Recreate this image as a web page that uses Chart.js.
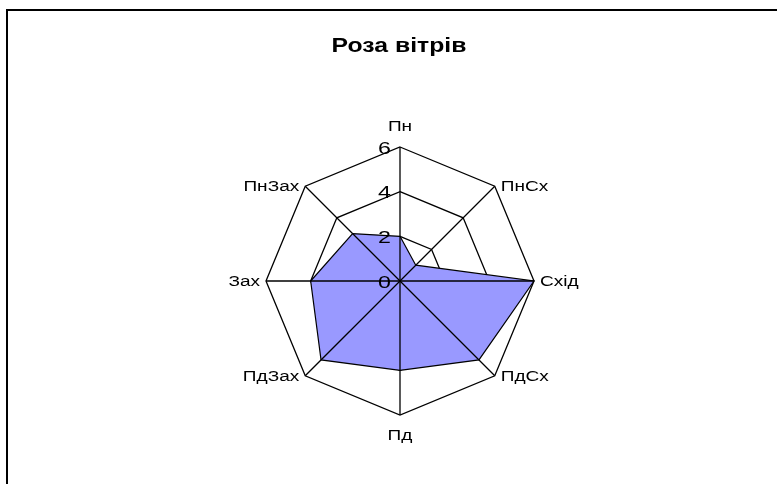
<!DOCTYPE html>
<html>
<head>
<meta charset="utf-8">
<title>Роза вітрів</title>
<script src="https://cdn.jsdelivr.net/npm/chart.js@4.4.1/dist/chart.umd.min.js"></script>
<style>
    html, body { margin: 0; padding: 0; background: #fff; overflow: hidden; }
    #frame {
        position: absolute; left: 6px; top: 9px;
        width: 900px; height: 600px;
        border: 2px solid #000;
    }
    #wind-rose { position: absolute; left: 0; top: 0; }
</style>
</head>
<body>
<div id="frame"></div>
<canvas id="wind-rose" width="777" height="484"></canvas>
<script>
// Chart data
const chartTitle = 'Роза вітрів';
const directions = ['Пн', 'ПнСх', 'Схід', 'ПдСх', 'Пд', 'ПдЗах', 'Зах', 'ПнЗах'];
const windValues = [2, 1, 6, 5, 4, 5, 4, 3];
const tickValues = [0, 2, 4, 6];

// The source picture has its text stretched sideways
const TITLE_STRETCH = 1.27;
const LABEL_STRETCH = 1.36;
const TICK_STRETCH = 1.45;
const FONT_FAMILY = '"Liberation Sans", Arial, sans-serif';

function drawStretched(ctx, text, x, y, font, align, stretch) {
    ctx.save();
    ctx.font = font;
    ctx.textAlign = align;
    ctx.textBaseline = 'alphabetic';
    ctx.fillStyle = '#000';
    ctx.translate(x, y);
    ctx.scale(stretch, 1);
    ctx.fillText(text, 0, 0);
    ctx.restore();
}

// Spokes go over the filled area, labels are drawn by hand
const roseDecor = {
    id: 'roseDecor',
    afterDatasetsDraw(chart) {
        const ctx = chart.ctx;
        const scale = chart.scales.r;
        const cx = scale.xCenter;
        const cy = scale.yCenter;

        // angle lines
        ctx.save();
        ctx.strokeStyle = '#000';
        ctx.lineWidth = 1.3;
        directions.forEach((d, i) => {
            const p = scale.getPointPositionForValue(i, scale.max);
            ctx.beginPath();
            ctx.moveTo(cx, cy);
            ctx.lineTo(p.x, p.y);
            ctx.stroke();
        });
        ctx.restore();

        // tick labels, left of the north spoke
        const tickFont = '16px ' + FONT_FAMILY;
        tickValues.forEach(v => {
            const dist = scale.getDistanceFromCenterForValue(v);
            drawStretched(ctx, String(v), cx - 9, cy - dist + 6.7, tickFont, 'right', TICK_STRETCH);
        });

        // direction labels
        const labelFont = '14px ' + FONT_FAMILY;
        directions.forEach((d, i) => {
            const p = scale.getPointPositionForValue(i, scale.max);
            const dx = p.x - cx;
            if (Math.abs(dx) < 1) {
                if (p.y < cy) {
                    drawStretched(ctx, d, p.x, p.y - 16, labelFont, 'center', LABEL_STRETCH);
                } else {
                    drawStretched(ctx, d, p.x, p.y + 25, labelFont, 'center', LABEL_STRETCH);
                }
            } else if (dx > 0) {
                drawStretched(ctx, d, p.x + 6, p.y + 5, labelFont, 'left', LABEL_STRETCH);
            } else {
                drawStretched(ctx, d, p.x - 6, p.y + 5, labelFont, 'right', LABEL_STRETCH);
            }
        });

        // title
        drawStretched(ctx, chartTitle, 399, 52, 'bold 19.5px ' + FONT_FAMILY, 'center', TITLE_STRETCH);
    }
};

function initializeWindRose() {
    const canvas = document.getElementById('wind-rose');
    if (!canvas || typeof Chart === 'undefined') {
        return;
    }

    new Chart(canvas.getContext('2d'), {
        type: 'radar',
        data: {
            labels: directions,
            datasets: [{
                label: chartTitle,
                data: windValues,
                backgroundColor: '#9999ff',
                borderColor: '#000',
                borderWidth: 1.2,
                pointRadius: 0,
                pointHoverRadius: 0,
                fill: true,
                tension: 0
            }]
        },
        options: {
            responsive: false,
            animation: false,
            events: [],
            layout: { padding: { left: 23, right: 0, top: 147, bottom: 69 } },
            plugins: {
                legend: { display: false },
                tooltip: { enabled: false },
                title: { display: false }
            },
            scales: {
                r: {
                    min: tickValues[0],
                    max: tickValues[tickValues.length - 1],
                    ticks: { display: false, stepSize: tickValues[1] - tickValues[0] },
                    grid: { color: '#000', lineWidth: 1.3, circular: false },
                    angleLines: { display: false },
                    pointLabels: { display: false }
                }
            }
        },
        plugins: [roseDecor]
    });
}

initializeWindRose();
</script>
</body>
</html>
